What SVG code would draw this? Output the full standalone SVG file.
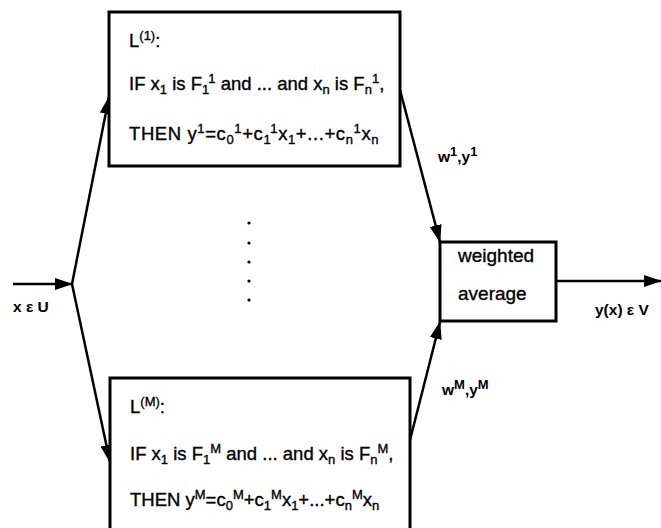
<svg xmlns="http://www.w3.org/2000/svg" width="661" height="528" viewBox="0 0 661 528">
<style>
text{font-family:"Liberation Sans",Arial,sans-serif;fill:#000;stroke:#000;stroke-width:0.35}
.r{font-size:18.5px}
.t{letter-spacing:0.6px}
.w{font-size:19px}
.l{font-size:15.5px;font-weight:bold;stroke-width:0}
.s{font-size:13px}
.box{fill:#fff;stroke:#000;stroke-width:3}
.ln{stroke:#000;stroke-width:2.5;fill:none}
</style>
<defs>
<marker id="ah" markerUnits="userSpaceOnUse" markerWidth="18" markerHeight="12" refX="17" refY="6" orient="auto">
<path d="M0,0 L18,6 L0,12 Z" fill="#000"/>
</marker>
</defs>
<g id="connectors">
<line class="ln" x1="13" y1="284" x2="72" y2="284" marker-end="url(#ah)"/>
<line class="ln" x1="72" y1="284" x2="109" y2="97" marker-end="url(#ah)"/>
<line class="ln" x1="72" y1="284" x2="110" y2="462" marker-end="url(#ah)"/>
<line class="ln" x1="400" y1="90" x2="440" y2="242" marker-end="url(#ah)"/>
<line class="ln" x1="410" y1="440" x2="440" y2="322" marker-end="url(#ah)"/>
<line class="ln" x1="556" y1="281" x2="661" y2="281" marker-end="url(#ah)"/>
</g>
<g id="rule1">
<rect class="box" x="109" y="12" width="291" height="154"/>
<text class="r" x="129" y="47">L<tspan class="s" dy="-7">(1)</tspan><tspan dy="7">:</tspan></text>
<text class="r" x="129" y="90">IF x<tspan class="s" dy="4">1</tspan><tspan dy="-4"> is F</tspan><tspan class="s" dy="4">1</tspan><tspan class="s" dy="-11">1</tspan><tspan dy="7"> and ... and x</tspan><tspan class="s" dy="4">n</tspan><tspan dy="-4"> is F</tspan><tspan class="s" dy="4">n</tspan><tspan class="s" dy="-11">1</tspan><tspan dy="7">,</tspan></text>
<text class="r t" x="129" y="140">THEN y<tspan class="s" dy="-7">1</tspan><tspan dy="7">=c</tspan><tspan class="s" dy="4">0</tspan><tspan class="s" dy="-11">1</tspan><tspan dy="7">+c</tspan><tspan class="s" dy="4">1</tspan><tspan class="s" dy="-11">1</tspan><tspan dy="7">x</tspan><tspan class="s" dy="4">1</tspan><tspan dy="-4">+...+c</tspan><tspan class="s" dy="4">n</tspan><tspan class="s" dy="-11">1</tspan><tspan dy="7">x</tspan><tspan class="s" dy="4">n</tspan></text>
</g>
<g id="ruleM">
<rect class="box" x="110" y="378" width="300" height="170"/>
<text class="r" x="130" y="413">L<tspan class="s" dy="-7">(M)</tspan><tspan dy="7">:</tspan></text>
<text class="r" x="130" y="460">IF x<tspan class="s" dy="4">1</tspan><tspan dy="-4"> is F</tspan><tspan class="s" dy="4">1</tspan><tspan class="s" dy="-11">M</tspan><tspan dy="7"> and ... and x</tspan><tspan class="s" dy="4">n</tspan><tspan dy="-4"> is F</tspan><tspan class="s" dy="4">n</tspan><tspan class="s" dy="-11">M</tspan><tspan dy="7">,</tspan></text>
<text class="r" x="130" y="506">THEN y<tspan class="s" dy="-7">M</tspan><tspan dy="7">=c</tspan><tspan class="s" dy="4">0</tspan><tspan class="s" dy="-11">M</tspan><tspan dy="7">+c</tspan><tspan class="s" dy="4">1</tspan><tspan class="s" dy="-11">M</tspan><tspan dy="7">x</tspan><tspan class="s" dy="4">1</tspan><tspan dy="-4">+...+c</tspan><tspan class="s" dy="4">n</tspan><tspan class="s" dy="-11">M</tspan><tspan dy="7">x</tspan><tspan class="s" dy="4">n</tspan></text>
</g>
<g id="average">
<rect class="box" x="440" y="242" width="116" height="79"/>
<text class="w" x="458" y="262">weighted</text>
<text class="w" x="458" y="300">average</text>
</g>
<g id="dots" fill="#000">
<circle cx="249" cy="223" r="1.6"/>
<circle cx="249" cy="243" r="1.6"/>
<circle cx="249" cy="262" r="1.6"/>
<circle cx="249" cy="281" r="1.6"/>
<circle cx="249" cy="300" r="1.6"/>
</g>
<g id="labels">
<text class="l" x="13" y="312">x ε U</text>
<text class="l" x="595" y="315">y(x) ε V</text>
<text class="l" x="438" y="162">w<tspan class="s" dy="-6">1</tspan><tspan dy="6">,y</tspan><tspan class="s" dy="-6">1</tspan></text>
<text class="l" x="442" y="395">w<tspan class="s" dy="-6">M</tspan><tspan dy="6">,y</tspan><tspan class="s" dy="-6">M</tspan></text>
</g>
</svg>
